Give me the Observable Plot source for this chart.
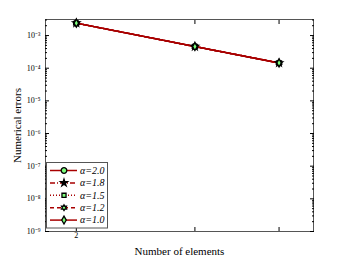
<!DOCTYPE html>
<html><head><meta charset="utf-8">
<script src="https://cdn.jsdelivr.net/npm/d3@7"></script>
<script src="https://cdn.jsdelivr.net/npm/@observablehq/plot@0.6"></script>
<style>body{margin:0;background:#fff} #c{width:346px;height:261px}</style>
</head><body><div id="c"></div>
<script>
const elements = [2, 3, 4];
const alphaLabels = ["α=2.0", "α=1.8", "α=1.5", "α=1.2", "α=1.0"];
const err_a20 = [2.4e-3, 4.6e-4, 1.45e-4];
const err_a18 = [2.4e-3, 4.6e-4, 1.45e-4];
const err_a15 = [2.4e-3, 4.6e-4, 1.45e-4];
const err_a12 = [2.4e-3, 4.6e-4, 1.45e-4];
const err_a10 = [2.4e-3, 4.6e-4, 1.45e-4];
const yTickValues = [1e-9, 1e-8, 1e-7, 1e-6, 1e-5, 1e-4, 1e-3];
const xTickValues = [2, 3, 4];

const red = "#a80000", green = "#7dff7d";
const hexagram = {draw(ctx, size) {
  const R = Math.sqrt(size / Math.PI) * 1.25, r = R / Math.sqrt(3);
  for (let i = 0; i < 12; i++) {
    const a = -Math.PI / 2 + i * Math.PI / 6, rr = i % 2 ? r : R;
    const x = rr * Math.cos(a), y = rr * Math.sin(a);
    i ? ctx.lineTo(x, y) : ctx.moveTo(x, y);
  }
  ctx.closePath();
}};
const series = [
  {label: alphaLabels[0], values: err_a20, dash: null, symbol: d3.symbolCircle, fill: green, r: 2.8},
  {label: alphaLabels[1], values: err_a18, dash: "5,2,1,2", symbol: d3.symbolStar, fill: "black", r: 2.2},
  {label: alphaLabels[2], values: err_a15, dash: "1,2", symbol: d3.symbolSquare, fill: green, r: 2.3},
  {label: alphaLabels[3], values: err_a12, dash: "4,3", symbol: hexagram, fill: green, r: 2.3},
  {label: alphaLabels[4], values: err_a10, dash: null, symbol: d3.symbolDiamond, fill: green, r: 2.4}
];
const rows = series.flatMap(s => elements.map((e, i) => ({s: s.label, x: e, y: s.values[i]})));

const sup = {"-": "⁻", "0": "⁰", "1": "¹", "2": "²", "3": "³", "4": "⁴", "5": "⁵", "6": "⁶", "7": "⁷", "8": "⁸", "9": "⁹"};
const fmt = v => "10" + String(Math.round(Math.log10(v))).split("").map(c => sup[c]).join("");
const minorY = [];
for (let k = -9; k < -2; k++) for (let m = 2; m <= 9; m++) if (m * 10 ** k <= 3.1e-3) minorY.push(m * 10 ** k);

const marks = [
  Plot.frame({stroke: "#555", strokeWidth: 1}),
  Plot.axisY(yTickValues, {anchor: "left", tickSize: -4, text: null, label: null}),
  Plot.axisY(yTickValues, {anchor: "right", tickSize: -4, text: null, label: null}),
  Plot.axisY(minorY, {anchor: "left", tickSize: -2, text: null, label: null}),
  Plot.axisY(minorY, {anchor: "right", tickSize: -2, text: null, label: null}),
  Plot.axisY(yTickValues, {anchor: "left", tickSize: 0, tickPadding: 5, tickFormat: fmt, fontSize: 8, label: null}),
  Plot.axisY([], {anchor: "left", tickSize: 0, fontSize: 11,
    label: "Numerical errors", labelAnchor: "center", labelArrow: "none", labelOffset: 32}),
  Plot.axisX(xTickValues, {anchor: "bottom", tickSize: -4, text: null, label: null}),
  Plot.axisX(xTickValues, {anchor: "top", tickSize: -4, text: null, label: null}),
  Plot.axisX(xTickValues, {anchor: "bottom", tickSize: 0, tickPadding: 1, tickFormat: d => String(d), fontSize: 8, label: null}),
  Plot.axisX([], {anchor: "bottom", tickSize: 0, fontSize: 11,
    label: "Number of elements", labelAnchor: "center", labelArrow: "none", labelOffset: 23})
];
for (const s of series) {
  const d = rows.filter(r => r.s === s.label);
  marks.push(Plot.line(d, {x: "x", y: "y", stroke: red, strokeWidth: 1.5, strokeDasharray: s.dash}));
}
for (const s of series) {
  const d = rows.filter(r => r.s === s.label);
  marks.push(Plot.dot(d, {x: "x", y: "y", symbol: () => s.symbol, r: s.r, fill: s.fill, stroke: "black", strokeWidth: 1.3}));
}

const chart = Plot.plot({
  width: 346, height: 261,
  marginLeft: 45, marginRight: 33, marginTop: 19, marginBottom: 30,
  style: {fontFamily: "Liberation Serif", fontSize: "9px", background: "white", color: "black"},
  x: {type: "log", domain: [1.8, 4.5]},
  y: {type: "log", domain: [1e-9, 3.1e-3]},
  symbol: {type: "identity"},
  marks
});
document.getElementById("c").appendChild(chart);

// legend (layout only)
const svg = d3.select(chart);
const g = svg.append("g").attr("font-family", "Liberation Serif").attr("font-size", 10)
  .attr("font-style", "italic").attr("text-anchor", "start");
g.append("rect").attr("x", 46.5).attr("y", 162.5).attr("width", 61).attr("height", 65.5)
  .attr("fill", "white").attr("stroke", "#555").attr("stroke-width", 1);
series.forEach((s, i) => {
  const y = 170.5 + i * 12.4;
  g.append("line").attr("x1", 50).attr("x2", 77).attr("y1", y).attr("y2", y)
    .attr("stroke", red).attr("stroke-width", 1.5).attr("stroke-dasharray", s.dash);
  g.append("path").attr("d", d3.symbol(s.symbol, s.r * s.r * Math.PI)()).attr("transform", `translate(64,${y})`)
    .attr("fill", s.fill).attr("stroke", "black").attr("stroke-width", 1.3);
  g.append("text").attr("x", 80).attr("y", y).attr("dy", "0.33em").text(s.label);
});
</script></body></html>
